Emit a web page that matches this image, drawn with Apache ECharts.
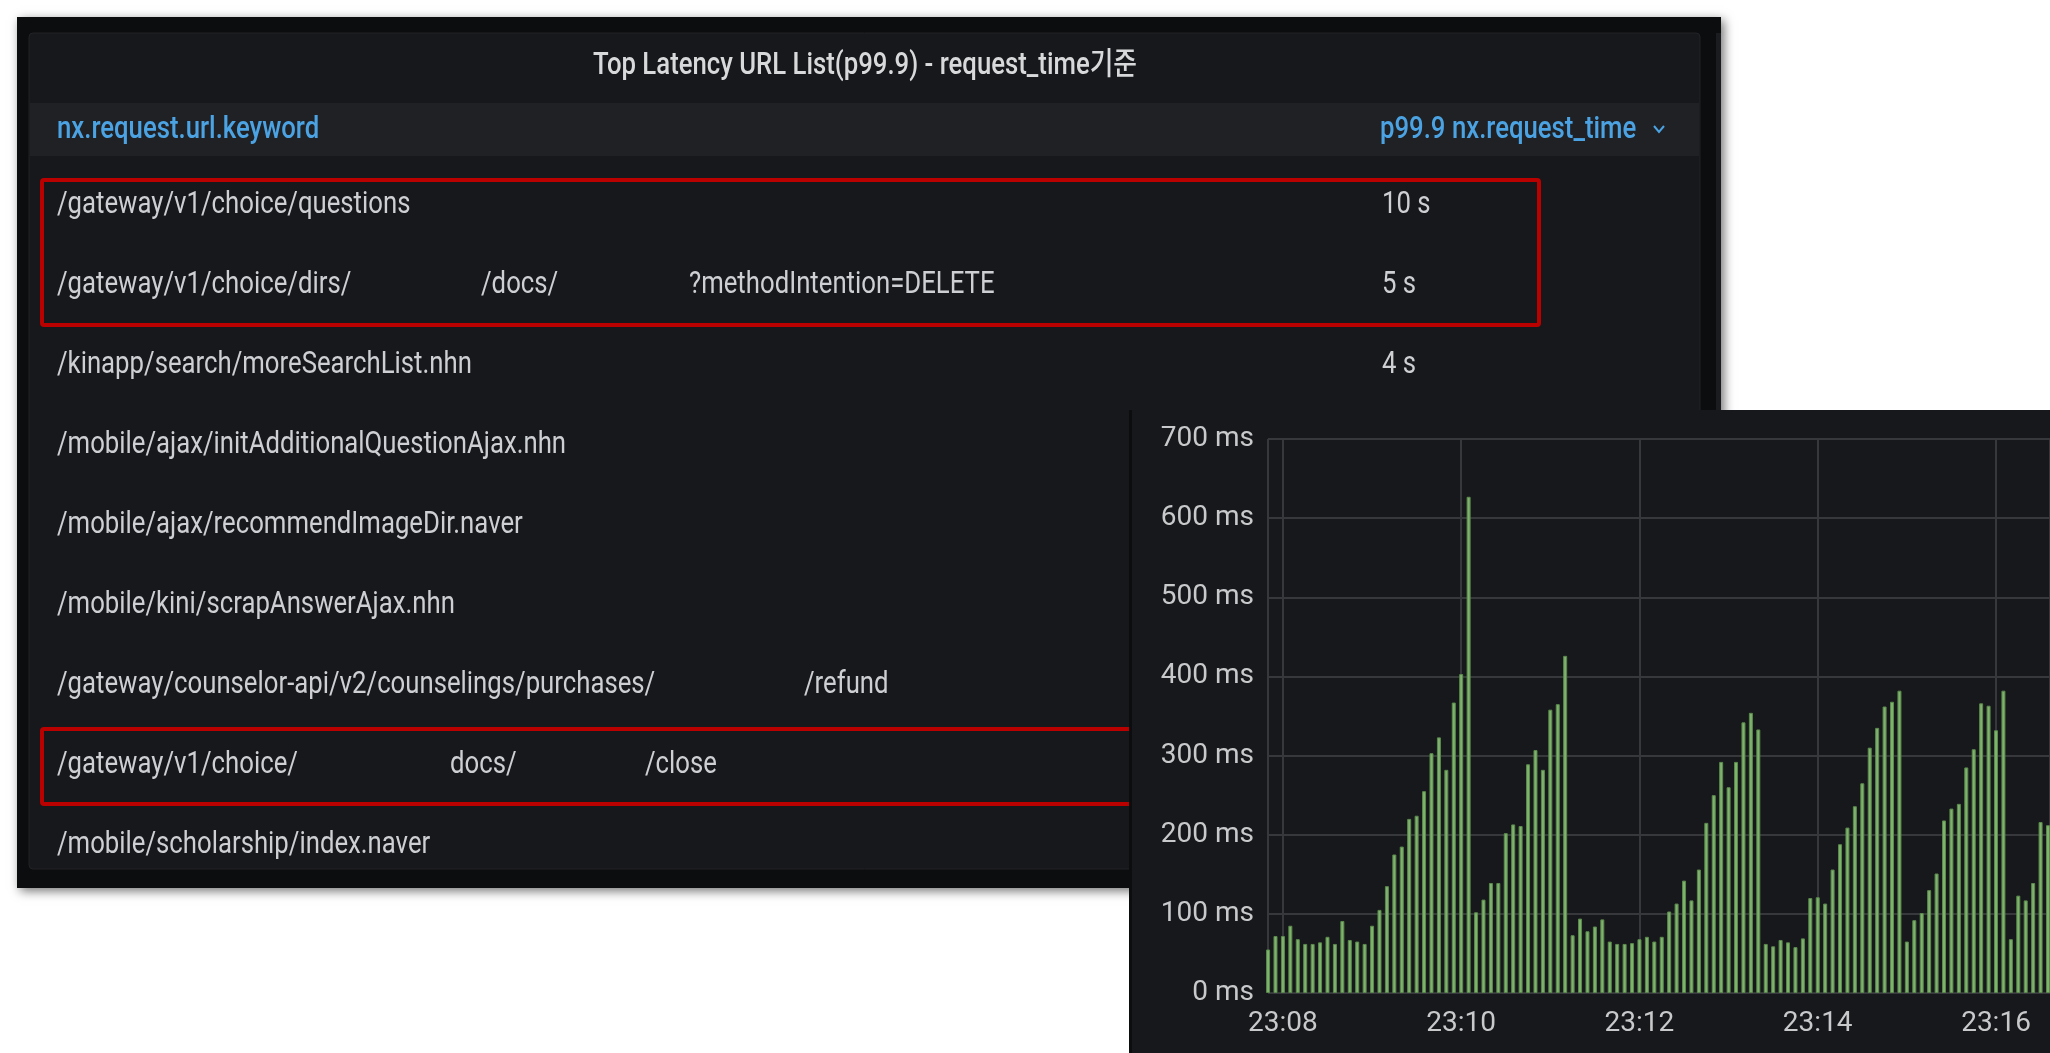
<!DOCTYPE html>
<html>
<head>
<meta charset="utf-8">
<script src="https://cdn.jsdelivr.net/npm/echarts@6/dist/echarts.min.js"></script>
<style>
  html, body { margin: 0; padding: 0; background: #ffffff; }
  #main { width: 2050px; height: 1053px; }
</style>
</head>
<body>
<div id="main"></div>
<script>
// table panel texts
const panelTitle = "Top Latency URL List(p99.9) - request_time기준";
const columnNames = ["nx.request.url.keyword", "p99.9 nx.request_time"];
// url rows, redacted pieces split into segments
const urlRows = [
  ["/gateway/v1/choice/questions"],
  ["/gateway/v1/choice/dirs/", "/docs/", "?methodIntention=DELETE"],
  ["/kinapp/search/moreSearchList.nhn"],
  ["/mobile/ajax/initAdditionalQuestionAjax.nhn"],
  ["/mobile/ajax/recommendImageDir.naver"],
  ["/mobile/kini/scrapAnswerAjax.nhn"],
  ["/gateway/counselor-api/v2/counselings/purchases/", "/refund"],
  ["/gateway/v1/choice/", "docs/", "/close"],
  ["/mobile/scholarship/index.naver"]
];
const p999Values = ["10 s", "5 s", "4 s"];

// bar chart: p99.9 latency (ms), one bar every 5 s starting 23:07:50
const latencyMs = [
  55, 72, 72, 85, 68, 62, 62, 64, 71, 62, 91, 67, 65, 62, 85, 105, 135, 175, 185, 220,
  224, 255, 303, 323, 282, 367, 403, 627, 102, 118, 139, 139, 202, 213, 211, 289, 307, 282, 358, 365,
  426, 73, 94, 78, 84, 93, 65, 62, 62, 63, 68, 71, 65, 71, 103, 113, 142, 117, 156, 215,
  250, 292, 260, 292, 342, 354, 333, 62, 59, 67, 64, 58, 69, 120, 121, 113, 156, 188, 209, 236,
  265, 310, 335, 362, 368, 382, 65, 92, 101, 130, 151, 218, 233, 239, 285, 308, 366, 363, 332, 382,
  68, 123, 117, 139, 216, 212
];
const firstBarTime = new Date(2021, 0, 1, 23, 7, 50).getTime();
const barStepMs = 5000;
const axisStart = new Date(2021, 0, 1, 23, 7, 51, 300).getTime();
const axisEnd = new Date(2021, 0, 1, 23, 16, 35).getTime();

const FONT = 'Roboto, "Noto Sans CJK KR", sans-serif';
const SQUEEZE = 0.83; // screenshot text is a bit narrow
const ROW_Y0 = 205;
const ROW_STEP = 80;
// x of each url segment (gaps are the redacted parts)
const segmentX = { 1: [57, 481, 689], 6: [57, 804], 7: [57, 450, 645] };

function txt(text, x, y, opts) {
  opts = opts || {};
  const align = opts.align || "left";
  return {
    type: "text",
    x: x,
    y: y,
    z: opts.z || 2,
    scaleX: SQUEEZE,
    silent: true,
    style: {
      text: text,
      fill: opts.color || "#cdcfd2",
      fontSize: opts.size || 31,
      fontWeight: opts.weight || "normal",
      fontFamily: FONT,
      textAlign: align,
      align: align,
      textVerticalAlign: "middle",
      verticalAlign: "middle"
    }
  };
}

const graphics = [];
// screenshot background + panel
graphics.push({
  type: "rect", z: 0, silent: true,
  shape: { x: 17, y: 17, width: 1704, height: 871 },
  style: { fill: "#0c0d0f", shadowBlur: 10, shadowOffsetX: 3, shadowOffsetY: 3, shadowColor: "rgba(0,0,0,0.55)" }
});
graphics.push({
  type: "rect", z: 1, silent: true,
  shape: { x: 29, y: 33, width: 1671, height: 836, r: 4 },
  style: { fill: "#17181b", stroke: "#222327", lineWidth: 1 }
});
graphics.push({
  type: "rect", z: 1, silent: true,
  shape: { x: 1716, y: 33, width: 5, height: 855 },
  style: { fill: "#1b1c1f" }
});
graphics.push({
  type: "rect", z: 1, silent: true,
  shape: { x: 30, y: 103, width: 1669, height: 53 },
  style: { fill: "#202125" }
});

graphics.push(txt(panelTitle, 865, 66, { align: "center", color: "#d8d9da", weight: 500 }));
graphics.push(txt(columnNames[0], 57, 130, { color: "#4ba3e3", weight: 500 }));
graphics.push(txt(columnNames[1], 1380, 130, { color: "#4ba3e3", weight: 500 }));
graphics.push({
  type: "polyline", z: 2, silent: true,
  shape: { points: [[1654, 126], [1659, 132], [1664, 126]] },
  style: { stroke: "#4ba3e3", lineWidth: 2, fill: null }
});

urlRows.forEach(function (parts, i) {
  const xs = segmentX[i] || [57];
  parts.forEach(function (part, j) {
    graphics.push(txt(part, xs[j], ROW_Y0 + i * ROW_STEP));
  });
});
p999Values.forEach(function (v, i) {
  graphics.push(txt(v, 1382, ROW_Y0 + i * ROW_STEP));
});

// red highlight boxes
graphics.push({
  type: "rect", z: 3, silent: true,
  shape: { x: 42, y: 180, width: 1497, height: 145, r: 2 },
  style: { fill: null, stroke: "#bb0000", lineWidth: 4 }
});
graphics.push({
  type: "rect", z: 3, silent: true,
  shape: { x: 42, y: 729, width: 1497, height: 75, r: 2 },
  style: { fill: null, stroke: "#bb0000", lineWidth: 4 }
});

// graph panel laid over the table
graphics.push({
  type: "rect", z: 4, silent: true,
  shape: { x: 1129, y: 410, width: 921, height: 643 },
  style: { fill: "#0c0d0f" }
});
graphics.push({
  type: "rect", z: 4, silent: true,
  shape: { x: 1132, y: 410, width: 918, height: 643 },
  style: { fill: "#17181b" }
});

const gridLine = { show: true, lineStyle: { color: "#36383c", width: 2 } };

const chart = echarts.init(document.getElementById("main"));
chart.setOption({
  backgroundColor: "#ffffff",
  animation: false,
  graphic: { elements: graphics },
  grid: { left: 1268, right: 0, top: 439, bottom: 60, containLabel: false, outerBoundsMode: "none" },
  xAxis: {
    type: "time",
    z: 5,
    min: axisStart,
    max: axisEnd,
    splitNumber: 4,
    // a bit over 2 min so the time scale settles on 2-minute steps
    minInterval: 130000,
    maxInterval: 170000,
    axisLine: { show: false },
    axisTick: { show: false },
    splitLine: gridLine,
    axisLabel: {
      color: "#c8c9cb",
      fontSize: 28,
      fontFamily: FONT,
      margin: 17,
      formatter: "{HH}:{mm}"
    }
  },
  yAxis: {
    type: "value",
    z: 5,
    min: 0,
    max: 700,
    interval: 100,
    axisLine: { show: false },
    axisTick: { show: false },
    splitLine: gridLine,
    axisLabel: {
      color: "#c8c9cb",
      fontSize: 28,
      fontFamily: FONT,
      margin: 14,
      formatter: "{value} ms"
    }
  },
  series: [
    {
      type: "bar",
      z: 6,
      barWidth: 4,
      itemStyle: { color: "#7eb26d", borderColor: "#5a8a4c", borderWidth: 1 },
      data: latencyMs.map(function (v, i) { return [firstBarTime + i * barStepMs, v]; })
    }
  ]
});
</script>
</body>
</html>
